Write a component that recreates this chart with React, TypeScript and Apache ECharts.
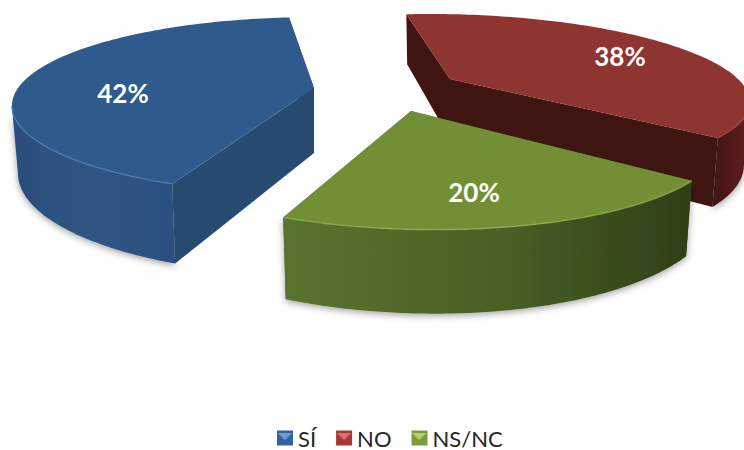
import React, { useEffect, useRef } from "react";
import * as echarts from "echarts";

const categories = ["SÍ", "NO", "NS/NC"];
const shares = [42, 38, 20];

// Clockwise angle, from the back of the disc, at which the first slice begins.
const START_ANGLE = 203;

// Each exploded slice has its own centre and its own perspective.
const slices = [
  {
    cx: 314, cy: 88, a: 296, b: 85, k: 0.2, shear: 0, depth: 65,
    top: "#2f5b8c", cut: "#264a70", rim: "#4f7fb4",
    wall: ["#2a4f7c", "#2f5584", "#2b5080"],
    label: [123, 93],
  },
  {
    cx: 450, cy: 79, a: 288, b: 78, k: 0.2, shear: 0.3, depth: 60,
    top: "#8e3431", cut: "#3f1511", rim: "#a84a46",
    wall: ["#3f1511", "#52191a", "#5e201c"],
    label: [620, 56],
  },
  {
    cx: 411, cy: 111, a: 295, b: 89, k: 0.25, shear: 0.206, depth: 63,
    top: "#738f36", cut: "#4a6126", rim: "#98b455",
    wall: ["#5a7330", "#4a6226", "#303f17"],
    label: [474, 192],
  },
];

const legendColors = ["#34629b", "#a63836", "#7d9c3a"];
const legendGlints = ["#6d9bd0", "#d9706d", "#b3cf6e"];
const legendIconLefts = [277, 336, 411];

type Slice = (typeof slices)[number];
type Pt = [number, number];

function sliceAngles(index: number): [number, number] {
  const total = shares.reduce((s, v) => s + v, 0);
  const before = shares.slice(0, index).reduce((s, v) => s + v, 0);
  const from = START_ANGLE + (before / total) * 360;
  return [from, from + (shares[index] / total) * 360];
}

function project(s: Slice, deg: number, r: number, drop: boolean): Pt {
  const t = (deg * Math.PI) / 180;
  const u = Math.sin(t) * r;
  const v = -Math.cos(t) * r;
  const w = 1 - s.k * v;
  const y = (s.b * v) / w;
  const x = (s.a * u) / w + s.shear * y;
  if (!drop) return [s.cx + x, s.cy + y];
  return [s.cx + x * 0.98, s.cy + y + s.depth / w];
}

function arcAngles(from: number, to: number): number[] {
  const steps = 120;
  return Array.from({ length: steps + 1 }, (_, i) => from + ((to - from) * i) / steps);
}

function cutFace(s: Slice, deg: number) {
  return {
    type: "polygon",
    shape: {
      points: [
        project(s, deg, 0, false),
        project(s, deg, 1, false),
        project(s, deg, 1, true),
        project(s, deg, 0, true),
      ],
    },
    style: { fill: s.cut },
  };
}

function renderSlice(index: number) {
  return () => {
    const s = slices[index];
    const [from, to] = sliceAngles(index);
    const sin = (d: number) => Math.sin((d * Math.PI) / 180);
    const angles = arcAngles(from, to);
    const top = angles.map((d) => project(s, d, 1, false));

    // The outer wall faces the viewer only where the rim runs right to left
    // as the angle grows clockwise.
    const facing = angles.filter((_, i) => {
      const next = top[Math.min(i + 1, top.length - 1)];
      const prev = top[Math.max(i - 1, 0)];
      return next[0] < prev[0];
    });
    const wallTop = facing.map((d) => project(s, d, 1, false));
    const wallBottom = facing.map((d) => project(s, d, 1, true));

    const wall = {
      type: "polygon",
      shape: { points: [...wallTop, ...wallBottom.slice().reverse()] },
      style: {
        fill: new echarts.graphic.LinearGradient(0, 0, 1, 0, [
          { offset: 0, color: s.wall[0] },
          { offset: 0.5, color: s.wall[1] },
          { offset: 1, color: s.wall[2] },
        ]),
        shadowBlur: 7,
        shadowColor: "rgba(0,0,0,0.38)",
        shadowOffsetY: 2,
      },
    };

    const hidden: any[] = [];
    const shown: any[] = [];
    (sin(from) < 0 ? shown : hidden).push(cutFace(s, from));
    (sin(to) > 0 ? shown : hidden).push(cutFace(s, to));

    return {
      type: "group",
      children: [
        ...hidden,
        wall,
        ...shown,
        { type: "polygon", shape: { points: [project(s, from, 0, false), ...top] }, style: { fill: s.top } },
        {
          type: "polyline",
          shape: { points: wallTop },
          style: { fill: "none", stroke: s.rim, lineWidth: 1.4, opacity: 0.75 },
        },
        {
          type: "text",
          x: s.label[0],
          y: s.label[1],
          style: {
            text: `${shares[index]}%`,
            fill: "#ffffff",
            font: 'bold 26px Lato, "Open Sans", sans-serif',
            align: "center",
            verticalAlign: "middle",
          },
        },
      ],
    };
  };
}

export default function App() {
  const ref = useRef<HTMLDivElement>(null);

  useEffect(() => {
    document.body.style.margin = "0";
    const chart = echarts.init(ref.current!, null, { renderer: "svg" });
    chart.setOption({
      animation: false,
      backgroundColor: "#ffffff",
      legend: {
        left: 272,
        top: 422,
        icon: "rect",
        itemWidth: 16,
        itemHeight: 15,
        itemGap: 20,
        data: categories,
        textStyle: {
          fontFamily: 'Lato, "Open Sans", sans-serif',
          fontSize: 22,
          color: "#262626",
        },
      },
      // Lighter bevel across the top of each legend swatch.
      graphic: legendIconLefts.map((left, i) => ({
        type: "polygon",
        silent: true,
        z: 100,
        shape: {
          points: [
            [left + 1, 433],
            [left + 15, 433],
            [left + 8, 440],
          ],
        },
        style: { fill: legendGlints[i] },
      })),
      series: categories.map((name, i) => ({
        type: "custom",
        name,
        coordinateSystem: "none",
        silent: true,
        itemStyle: { color: legendColors[i] },
        data: [[shares[i]]],
        renderItem: renderSlice(i),
      })),
    });
    return () => chart.dispose();
  }, []);

  return <div ref={ref} style={{ position: "absolute", left: 0, top: 0, width: 744, height: 450 }} />;
}
